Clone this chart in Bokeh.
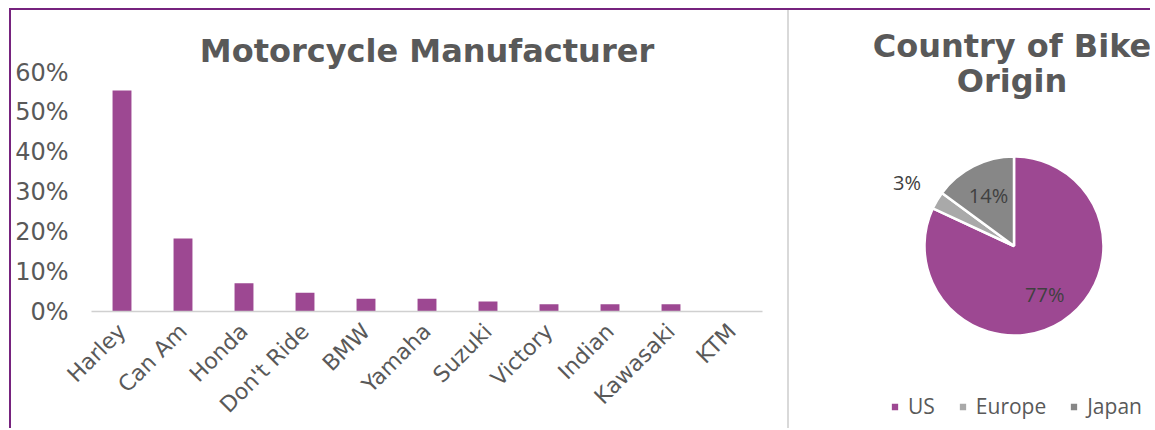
import math
from bokeh.plotting import figure
from bokeh.models import (FactorRange, Range1d, FixedTicker, NumeralTickFormatter,
                          ColumnDataSource, Label, Legend, LegendItem)
from bokeh.layouts import row
from bokeh.embed import file_html
from bokeh.resources import INLINE
from bokeh.core.properties import value

# ---------------- data ----------------
manufacturers = ["Harley", "Can Am", "Honda", "Don't Ride", "BMW", "Yamaha",
                 "Suzuki", "Victory", "Indian", "Kawasaki", "KTM"]
shares = [0.555, 0.183, 0.071, 0.047, 0.032, 0.032, 0.025, 0.018, 0.018, 0.018, 0.0]
y_ticks = [0.0, 0.1, 0.2, 0.3, 0.4, 0.5, 0.6]

countries = ["US", "Europe", "Japan"]
country_pct = [77, 3, 14]

# ---------------- styles ----------------
PURPLE = "#9D4892"
BORDER = "#76237E"
TXT = "#595959"
PIE_COLORS = [PURPLE, "#A9A9A9", "#878787"]
LABEL_RADIUS = [0.64, 1.39, 0.63]
TITLE_FONT = "DejaVu Sans"
AXIS_FONT = "DejaVu Sans"
PIE_FONT = "Open Sans"

W1, H1 = 776, 445
W2, H = 363, 418
TOP_PAD = 2                       # frame reaches near the top so the title sits inside it
PX_PER_UNIT = 239 / 0.6           # axis scale: 0..60% spans 239 px
Y_END = (301 - TOP_PAD) / PX_PER_UNIT

# ---------------- bar chart ----------------
p1 = figure(width=W1, height=H1, x_range=FactorRange(*manufacturers),
            y_range=Range1d(0, Y_END), output_backend="svg", toolbar_location=None,
            min_border_left=80, min_border_right=25, min_border_top=TOP_PAD,
            min_border_bottom=H1 - 301)
p1.frame_align = False
p1.vbar(x=manufacturers, top=shares, width=0.31, fill_color=PURPLE, line_color=None)

# chart title, centred over the plot area above the 60% line
# (a FactorRange's synthetic coordinates run 0..n, so n/2 is the centre)
p1.add_layout(Label(x=len(manufacturers) / 2, y=y_ticks[-1], y_offset=22,
                    text="Motorcycle Manufacturer", text_align="center",
                    text_baseline="alphabetic", text_font=TITLE_FONT,
                    text_font_size="32px", text_font_style="bold", text_color=TXT))

p1.xgrid.visible = False
p1.ygrid.visible = False
p1.outline_line_color = None

p1.yaxis.ticker = FixedTicker(ticks=y_ticks)
p1.yaxis.formatter = NumeralTickFormatter(format="0%")
p1.yaxis.axis_line_color = None
p1.yaxis.major_tick_line_color = None
p1.yaxis.minor_tick_line_color = None
p1.yaxis.major_label_text_font = AXIS_FONT
p1.yaxis.major_label_text_font_size = "24px"
p1.yaxis.major_label_text_color = TXT
p1.yaxis.major_label_standoff = 17

p1.xaxis.axis_line_color = "#D0D0D0"
p1.xaxis.axis_line_width = 1.5
p1.xaxis.major_tick_line_color = None
p1.xaxis.minor_tick_line_color = None
p1.xaxis.major_label_orientation = math.pi / 4
p1.xaxis.major_label_text_font = AXIS_FONT
p1.xaxis.major_label_text_font_size = "22px"
p1.xaxis.major_label_text_color = TXT
p1.xaxis.major_label_standoff = 10

# ---------------- pie chart ----------------
p2 = figure(width=W2, height=H, x_range=Range1d(0, W2), y_range=Range1d(0, H),
            output_backend="svg", toolbar_location=None,
            x_axis_type=None, y_axis_type=None, min_border=0)
p2.frame_align = False
p2.grid.visible = False
p2.outline_line_color = None
p2.styles = {"border-left": "2px solid #D9D9D9"}

cx, cy, rad = 224.5, 182.5, 89.5
total = float(sum(country_pct))
starts, ends, lx, ly, ltxt = [], [], [], [], []
cum = 0.0
for i, v in enumerate(country_pct):
    a0 = cum / total * 2 * math.pi
    cum += v
    a1 = cum / total * 2 * math.pi
    # clockwise from 12 o'clock
    starts.append(math.pi / 2 - a1)
    ends.append(math.pi / 2 - a0)
    mid = math.pi / 2 - (a0 + a1) / 2
    lx.append(cx + rad * LABEL_RADIUS[i] * math.cos(mid))
    ly.append(cy + rad * LABEL_RADIUS[i] * math.sin(mid))
    ltxt.append(f"{v}%")

src = ColumnDataSource(dict(country=countries, start=starts, end=ends,
                            color=PIE_COLORS, lx=lx, ly=ly, ltxt=ltxt))
wr = p2.wedge(x=cx, y=cy, radius=rad, start_angle="start", end_angle="end",
              fill_color="color", line_color="white", line_width=2.5, source=src)
p2.text(x="lx", y="ly", text="ltxt", source=src, text_align="center",
        text_baseline="middle", text_font=value(PIE_FONT), text_font_size="20px",
        text_color="#404040")

for txt, yy in (("Country of Bike", 383), ("Origin", 348)):
    p2.add_layout(Label(x=222.5, y=yy, text=txt, text_align="center",
                        text_baseline="middle", text_font=TITLE_FONT,
                        text_font_size="32px", text_font_style="bold",
                        text_color=TXT))

legend = Legend(items=[LegendItem(label=c, renderers=[wr], index=i)
                       for i, c in enumerate(countries)],
                orientation="horizontal", location=(100, 8),
                glyph_width=11, glyph_height=11, label_standoff=8, spacing=22,
                padding=0, margin=0, border_line_color=None,
                background_fill_alpha=0,
                label_text_font=PIE_FONT, label_text_font_size="21px",
                label_text_color=TXT)
p2.add_layout(legend)

layout = row(p1, p2, styles={"border-top": "2px solid " + BORDER,
                             "border-left": "2px solid " + BORDER,
                             "margin-top": "8px", "margin-left": "9px",
                             "max-height": "420px", "overflow": "hidden"})

open("out.html", "w").write(file_html(layout, INLINE))
